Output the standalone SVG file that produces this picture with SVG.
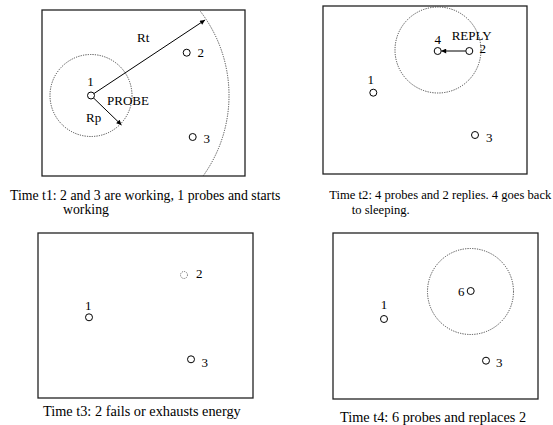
<svg xmlns="http://www.w3.org/2000/svg" width="553" height="425" viewBox="0 0 553 425">
<style>
text{font-family:"Liberation Serif","Times New Roman",serif;fill:#000}
.lbl{font-size:13px}
.c1{font-size:13.8px}
.c2{font-size:12.6px}
.c3{font-size:14.3px}
.c4{font-size:14.3px}
.frame{fill:none;stroke:#222;stroke-width:1.3}
.node{fill:#fff;stroke:#000;stroke-width:1}
.dead{fill:#fff;stroke:#444;stroke-width:0.8;stroke-dasharray:1 1}
.range{fill:none;stroke:#333;stroke-width:0.9;stroke-dasharray:1.2 1.2}
.arr{stroke:#000;stroke-width:1;fill:none;marker-end:url(#ah)}
</style>
<defs>
<marker id="ah" viewBox="0 0 10 10" refX="10" refY="5" markerWidth="7" markerHeight="5" markerUnits="userSpaceOnUse" orient="auto">
<path d="M0,0 L10,5 L0,10 z" fill="#000"/>
</marker>
</defs>
<rect width="553" height="425" fill="#fff"/>

<!-- Panel 1 -->
<g id="panel1">
<rect class="frame" x="42" y="10" width="203" height="166"/>
<circle class="range" cx="91" cy="95.5" r="41"/>
<path class="range" d="M200.5,11.5 A138,138 0 0 1 203.1,176"/>
<g id="p1-connectors">
<line class="arr" x1="91" y1="95.5" x2="205" y2="20"/>
<line class="arr" x1="91" y1="95.5" x2="121.5" y2="125"/>
</g>
<text class="lbl" x="137" y="42">Rt</text>
<text class="lbl" x="107" y="105">PROBE</text>
<text class="lbl" x="86" y="122">Rp</text>
<g id="p1-n1"><circle class="node" cx="91" cy="95.5" r="3.5"/><text class="lbl" x="90.5" y="86" text-anchor="middle">1</text></g>
<g id="p1-n2"><circle class="node" cx="186.7" cy="52.7" r="3.5"/><text class="lbl" x="197.5" y="57">2</text></g>
<g id="p1-n3"><circle class="node" cx="192.7" cy="137" r="3.5"/><text class="lbl" x="203.5" y="143">3</text></g>
<text class="c1" x="10" y="200">Time t1: 2 and 3 are working, 1 probes and starts</text>
<text class="c1" x="63" y="213.5">working</text>
</g>

<!-- Panel 2 -->
<g id="panel2">
<rect class="frame" x="323" y="6" width="204" height="168"/>
<circle class="range" cx="438" cy="50" r="43"/>
<g id="p2-connectors">
<line class="arr" x1="465.8" y1="51" x2="441.2" y2="51"/>
</g>
<text class="lbl" x="451.7" y="39.5">REPLY</text>
<g id="p2-n4"><circle class="node" cx="437.7" cy="51" r="3.5"/><text class="lbl" x="437.7" y="43.5" text-anchor="middle">4</text></g>
<g id="p2-n2"><circle class="node" cx="469.3" cy="51" r="3.5"/><text class="lbl" x="479.5" y="53">2</text></g>
<g id="p2-n1"><circle class="node" cx="373.3" cy="92.7" r="3.5"/><text class="lbl" x="370.7" y="84" text-anchor="middle">1</text></g>
<g id="p2-n3"><circle class="node" cx="475" cy="135" r="3.5"/><text class="lbl" x="486" y="141.5">3</text></g>
<text class="c2" x="329.3" y="199">Time t2: 4 probes and 2 replies. 4 goes back</text>
<text class="c2" x="351.7" y="213.5">to sleeping.</text>
</g>

<!-- Panel 3 -->
<g id="panel3">
<rect class="frame" x="38" y="233" width="215" height="165"/>
<g id="p3-n1"><circle class="node" cx="89" cy="317.3" r="3.5"/><text class="lbl" x="88.3" y="309.5" text-anchor="middle">1</text></g>
<g id="p3-n2"><circle class="dead" cx="184" cy="275" r="3.5"/><text class="lbl" x="196" y="277.5">2</text></g>
<g id="p3-n3"><circle class="node" cx="191" cy="359.3" r="3.5"/><text class="lbl" x="201.5" y="367">3</text></g>
<text class="c3" x="43" y="416">Time t3: 2 fails or exhausts energy</text>
</g>

<!-- Panel 4 -->
<g id="panel4">
<rect class="frame" x="333" y="233" width="205" height="166"/>
<circle class="range" cx="470.5" cy="291.5" r="43"/>
<g id="p4-n6"><circle class="node" cx="470.7" cy="291" r="3.5"/><text class="lbl" x="458" y="295.5">6</text></g>
<g id="p4-n1"><circle class="node" cx="384" cy="319" r="3.5"/><text class="lbl" x="384" y="308.5" text-anchor="middle">1</text></g>
<g id="p4-n3"><circle class="node" cx="486" cy="360.7" r="3.5"/><text class="lbl" x="496" y="367">3</text></g>
<text class="c4" x="340" y="421.5">Time t4: 6 probes and replaces 2</text>
</g>
</svg>
